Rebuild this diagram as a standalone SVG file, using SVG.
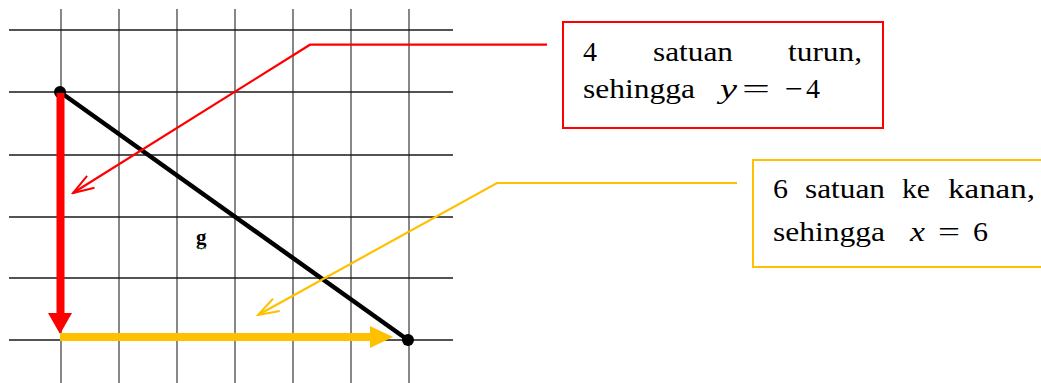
<svg xmlns="http://www.w3.org/2000/svg" width="1041" height="383" viewBox="0 0 1041 383">
<style>
.gv{stroke:#555;stroke-width:1.4}
.gh{stroke:#1a1a1a;stroke-width:1.3}
text{font-family:'Liberation Serif','Times New Roman',Times,serif;fill:#000}
.t{font-size:28px}
.i{font-style:italic}
</style>
<defs>
<marker id="openR" markerWidth="24" markerHeight="18" refX="22" refY="8" orient="auto" markerUnits="userSpaceOnUse" viewBox="0 0 24 16">
<path d="M1,1 L22,8 L1,15" fill="none" stroke="#ff0000" stroke-width="2"/>
</marker>
<marker id="openY" markerWidth="24" markerHeight="18" refX="22" refY="8" orient="auto" markerUnits="userSpaceOnUse" viewBox="0 0 24 16">
<path d="M1,1 L22,8 L1,15" fill="none" stroke="#ffc000" stroke-width="2"/>
</marker>
</defs>
<rect width="1041" height="383" fill="#fff"/>
<g id="grid">
<line class="gv" x1="61" y1="9" x2="61" y2="383"/>
<line class="gv" x1="119" y1="9" x2="119" y2="383"/>
<line class="gv" x1="177" y1="9" x2="177" y2="383"/>
<line class="gv" x1="235" y1="9" x2="235" y2="383"/>
<line class="gv" x1="293" y1="9" x2="293" y2="383"/>
<line class="gv" x1="351" y1="9" x2="351" y2="383"/>
<line class="gv" x1="409" y1="9" x2="409" y2="383"/>
<line class="gh" x1="9" y1="30" x2="453" y2="30"/>
<line class="gh" x1="9" y1="92" x2="453" y2="92"/>
<line class="gh" x1="9" y1="155" x2="453" y2="155"/>
<line class="gh" x1="9" y1="217" x2="453" y2="217"/>
<line class="gh" x1="9" y1="278" x2="453" y2="278"/>
<line class="gh" x1="9" y1="340" x2="453" y2="340"/>
</g>
<g id="segment">
<line x1="60" y1="92" x2="408" y2="340" stroke="#000" stroke-width="4.5"/>
<circle cx="60" cy="92" r="6" fill="#000"/>
<circle cx="408" cy="340" r="6" fill="#000"/>
</g>
<g id="vertical-arrow">
<rect x="56.5" y="93" width="8" height="221" fill="#ff0000"/>
<polygon points="48,313 72,313 60,334" fill="#ff0000"/>
</g>
<g id="horizontal-arrow">
<rect x="60" y="333" width="311" height="8" fill="#ffc000"/>
<polygon points="370,326 370,348 393,337" fill="#ffc000"/>
</g>
<g id="label-g">
<text x="196" y="244" font-size="21" font-weight="bold">g</text>
<path d="M197,248.5 q1.5,-1.5 3,0 t3,0 t3,0" fill="none" stroke="#3a9a3a" stroke-width="0.9"/>
</g>
<g id="connectors">
<polyline points="547,44.7 310,44.7 73,193" fill="none" stroke="#ff0000" stroke-width="2.2" marker-end="url(#openR)"/>
<polyline points="737,183 497,183 258,315" fill="none" stroke="#ffc000" stroke-width="2.2" marker-end="url(#openY)"/>
</g>
<g id="box-red">
<rect x="563" y="22" width="320" height="106" fill="#fff" stroke="#ff0000" stroke-width="2"/>
<text class="t" y="60.5"><tspan x="583" textLength="14" lengthAdjust="spacingAndGlyphs">4</tspan><tspan x="653" textLength="80" lengthAdjust="spacingAndGlyphs">satuan</tspan><tspan x="788" textLength="74" lengthAdjust="spacingAndGlyphs">turun,</tspan></text>
<text class="t" y="98"><tspan x="583" textLength="112" lengthAdjust="spacingAndGlyphs">sehingga</tspan></text>
<text class="t" y="98"><tspan class="i" x="720" textLength="17" lengthAdjust="spacingAndGlyphs">y</tspan><tspan x="742" textLength="28" lengthAdjust="spacingAndGlyphs">=</tspan><tspan x="785" textLength="18" lengthAdjust="spacingAndGlyphs">−</tspan><tspan x="806" textLength="14" lengthAdjust="spacingAndGlyphs">4</tspan></text>
</g>
<g id="box-yellow">
<rect x="753" y="160" width="300" height="107" fill="#fff" stroke="#ffc000" stroke-width="2"/>
<text class="t" y="198.3"><tspan x="773" textLength="15" lengthAdjust="spacingAndGlyphs">6</tspan><tspan x="805" textLength="80" lengthAdjust="spacingAndGlyphs">satuan</tspan><tspan x="902" textLength="28" lengthAdjust="spacingAndGlyphs">ke</tspan><tspan x="948" textLength="87" lengthAdjust="spacingAndGlyphs">kanan,</tspan></text>
<text class="t" y="240.7"><tspan x="773" textLength="112" lengthAdjust="spacingAndGlyphs">sehingga</tspan></text>
<text class="t" y="240.7"><tspan class="i" x="910" textLength="15" lengthAdjust="spacingAndGlyphs">x</tspan><tspan x="938" textLength="22" lengthAdjust="spacingAndGlyphs">=</tspan><tspan x="973" textLength="15" lengthAdjust="spacingAndGlyphs">6</tspan></text>
</g>
</svg>
